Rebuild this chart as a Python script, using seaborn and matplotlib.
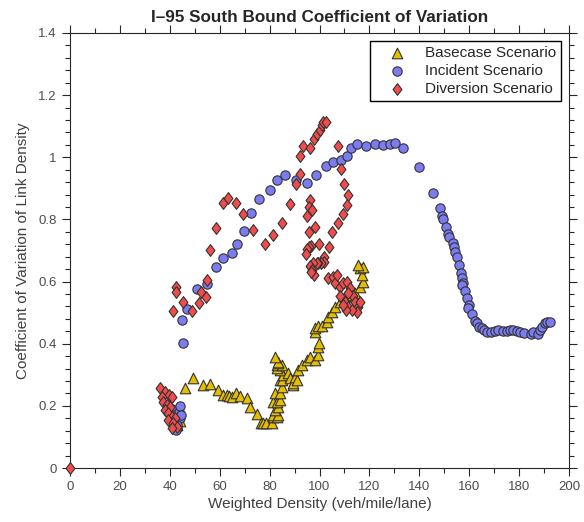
import pandas as pd
import matplotlib.pyplot as plt
import numpy as np
import seaborn as sns
from matplotlib.ticker import MultipleLocator
from matplotlib.path import Path

# Basecase scenario (triangles)
base_x = [42, 43, 44, 43, 41.5,
          46.1, 49.4, 53.2, 56.3, 59.2, 61.4, 62.8, 63.8, 64.8, 66.5, 68.1, 70.8, 72.1, 74.8, 76.4,
          77.5, 78.6, 80.8, 81.5, 81.5, 82.8, 83.5, 82.2, 83.5, 81.5, 82.8, 84.2, 82.2, 84.2, 84.8,
          84.2, 84.8, 85.5, 84.2, 82.8, 82.8, 84.8, 83.5, 83.5, 82.2, 87.5, 88.2, 89.5, 89.5, 90.2,
          90.8, 91.5, 92.9, 94.9, 96.2, 98.2, 99.5, 99.5, 99.9, 98.2, 98.2, 99.5, 100.9, 102.9, 103.5,
          104.9, 106.2, 108.2, 110.2, 112.2, 114.2, 116.2, 117.6, 116.9, 116.2, 117.6, 115.6]
base_y = [0.17, 0.19, 0.15, 0.14, 0.16,
          0.256, 0.289, 0.268, 0.270, 0.252, 0.234, 0.235, 0.233, 0.229, 0.242, 0.232, 0.224, 0.197, 0.174, 0.144,
          0.144, 0.144, 0.145, 0.165, 0.171, 0.165, 0.171, 0.187, 0.195, 0.213, 0.213, 0.219, 0.240, 0.240, 0.262,
          0.283, 0.283, 0.299, 0.315, 0.321, 0.331, 0.331, 0.337, 0.342, 0.358, 0.305, 0.289, 0.267, 0.273, 0.294,
          0.283, 0.315, 0.331, 0.348, 0.358, 0.348, 0.364, 0.390, 0.403, 0.439, 0.450, 0.457, 0.457, 0.471, 0.487,
          0.503, 0.519, 0.535, 0.552, 0.557, 0.562, 0.584, 0.600, 0.621, 0.643, 0.648, 0.653]

# Incident scenario (circles)
inc_x = [41, 42, 42.5, 43, 42.3, 44, 43.5, 44, 43, 44.5,
         45.4, 45.0, 47.0, 50.8, 55.0, 58.5, 61.4, 64.8, 67.0, 69.6, 72.7, 75.7, 80.0, 83.0, 86.0,
         90.4, 95.1, 98.6, 102.4, 105.4, 108.5, 110.9, 112.8, 115.0, 118.7, 122.1, 125.3, 128.3, 130.4,
         133.4, 139.8, 145.3, 148.2, 149.0, 149.4, 150.6, 151.4, 152.0, 153.4, 153.9, 154.4, 155.0,
         156.0, 156.7, 157.2, 157.6, 157.2, 158.4, 159.2, 159.8, 159.7, 161.0, 162.3, 163.0, 164.0,
         165.0, 165.9, 167.0, 168.6, 170.3, 171.6, 173.4, 175.0, 176.4, 177.7, 179.0, 180.4, 182.0,
         184.6, 185.4, 187.7, 188.4, 189.3, 190.4, 191.3, 192.4]
inc_y = [0.19, 0.17, 0.15, 0.13, 0.122, 0.16, 0.18, 0.20, 0.14, 0.17,
         0.403, 0.475, 0.512, 0.575, 0.592, 0.648, 0.677, 0.691, 0.720, 0.764, 0.820, 0.866, 0.896, 0.928, 0.943,
         0.927, 0.916, 0.944, 0.972, 0.986, 0.991, 1.003, 1.029, 1.043, 1.037, 1.042, 1.041, 1.044, 1.046,
         1.030, 0.969, 0.886, 0.836, 0.811, 0.800, 0.777, 0.753, 0.742, 0.723, 0.710, 0.696, 0.680,
         0.653, 0.627, 0.611, 0.594, 0.589, 0.569, 0.546, 0.525, 0.514, 0.496, 0.474, 0.466, 0.455,
         0.450, 0.444, 0.439, 0.439, 0.441, 0.444, 0.441, 0.441, 0.444, 0.444, 0.441, 0.439, 0.436,
         0.430, 0.439, 0.430, 0.444, 0.455, 0.466, 0.471, 0.471]

# Diversion scenario (diamonds)
div_x = [0,
         36.1, 38.1, 39.7, 40.8, 36.8, 37.4, 38.8, 40.1, 38.1, 39.4, 40.8, 42.1, 39.4, 41.4, 42.8, 40.8,
         41.4, 42.5, 42.5, 45.4, 48.8, 51.8, 52.5, 54.5, 55.0, 56.2, 58.5, 61.2, 63.4, 66.5, 69.5, 73.5,
         78.3, 81.3, 85.1, 88.2, 90.5, 92.0, 92.2, 93.3, 96.2, 97.8, 99.0, 100.0, 100.9, 101.5, 102.5,
         107.6, 108.8, 110.0, 111.3, 111.1, 109.4, 107.3, 105.1, 103.8, 101.9, 101.8, 100.7, 99.5, 98.9, 97.3,
         96.2, 95.7, 97.0, 94.8, 98.2, 95.7, 99.8, 96.6, 95.9, 94.9, 94.7, 96.2, 96.9, 97.8, 96.6,
         103.5, 105.5, 106.2, 107.1, 108.2, 109.5, 110.9, 112.2, 108.2, 110.2, 111.5, 113.5, 114.2, 115.6,
         114.9, 112.9, 110.6, 109.5, 116.2, 111.5]
div_y = [0,
         0.256, 0.246, 0.235, 0.229, 0.229, 0.213, 0.203, 0.197, 0.187, 0.176, 0.165, 0.160, 0.154, 0.144, 0.133, 0.128,
         0.505, 0.584, 0.568, 0.533, 0.506, 0.530, 0.565, 0.551, 0.605, 0.702, 0.772, 0.852, 0.868, 0.852, 0.819, 0.765,
         0.721, 0.751, 0.788, 0.850, 0.914, 0.947, 1.005, 1.035, 1.030, 1.060, 1.074, 1.088, 1.104, 1.114, 1.113,
         1.037, 0.961, 0.915, 0.880, 0.846, 0.817, 0.790, 0.761, 0.712, 0.680, 0.663, 0.661, 0.659, 0.659, 0.659,
         0.863, 0.841, 0.830, 0.812, 0.777, 0.758, 0.722, 0.715, 0.712, 0.704, 0.690, 0.650, 0.636, 0.620, 0.632,
         0.610, 0.616, 0.596, 0.621, 0.584, 0.594, 0.600, 0.578, 0.552, 0.535, 0.519, 0.552, 0.535, 0.519,
         0.503, 0.509, 0.509, 0.525, 0.535, 0.564]

scenarios = ["Basecase Scenario", "Incident Scenario", "Diversion Scenario"]
x_ticks = [0, 20, 40, 60, 80, 100, 120, 140, 160, 180, 200]
y_ticks = [0, 0.2, 0.4, 0.6, 0.8, 1.0, 1.2, 1.4]
y_tick_labels = ["0", "0.2", "0.4", "0.6", "0.8", "1", "1.2", "1.4"]

sns.set_style("ticks")
plt.rcParams["font.family"] = ["Liberation Sans", "DejaVu Sans"]

# matlab-like diamond, a bit narrower than tall
diamond = Path([(0, 1), (0.75, 0), (0, -1), (-0.75, 0), (0, 1)],
               [Path.MOVETO, Path.LINETO, Path.LINETO, Path.LINETO, Path.CLOSEPOLY])

fig = plt.figure(figsize=(5.84, 5.22), dpi=100)
ax = fig.add_axes([0.1199, 0.1034, 0.8545, 0.8334])

series = [
    (base_x, base_y, scenarios[0], "#E6BE00", "^", 58),
    (inc_x, inc_y, scenarios[1], "#7B7BF2", "o", 45),
    (div_x, div_y, scenarios[2], "#F24B4B", diamond, 72),
]
for xs, ys, name, col, mk, size in series:
    sns.scatterplot(x=xs, y=ys, color=col, marker=mk, s=size, edgecolor="#333333",
                    linewidth=0.8, label=name, ax=ax, zorder=3, clip_on=False)

ax.set_xlim(0, 200)
ax.set_ylim(0, 1.4)
ax.set_xticks(x_ticks)
ax.set_yticks(y_ticks)
ax.set_yticklabels(y_tick_labels)
ax.xaxis.set_minor_locator(MultipleLocator(10))
ax.yaxis.set_minor_locator(MultipleLocator(0.04))
ax.tick_params(which="both", direction="out", top=True, right=True,
               color="#262626", width=0.8, labelcolor="#4d4d4d", labelsize=9.5)
ax.tick_params(which="major", length=6)
ax.tick_params(which="minor", length=3.5)
for sp in ax.spines.values():
    sp.set_color("#262626")
    sp.set_linewidth(0.8)

ax.set_xlabel("Weighted Density (veh/mile/lane)", fontsize=11, color="#404040", labelpad=3)
ax.set_ylabel("Coefficient of Variation of Link Density", fontsize=11, color="#404040", labelpad=6)
ax.set_title("I\u201395 South Bound Coefficient of Variation", fontsize=12.3, fontweight="bold", pad=8)

leg = ax.legend(loc="upper right", fancybox=False, edgecolor="black",
                fontsize=11, borderaxespad=0.5, handlelength=2.9, handletextpad=0.35,
                borderpad=0.35, labelspacing=0.25, framealpha=1)
leg.get_frame().set_linewidth(1.0)
for t in leg.get_texts():
    t.set_color("#262626")

fig.savefig("out.png", dpi=100)
